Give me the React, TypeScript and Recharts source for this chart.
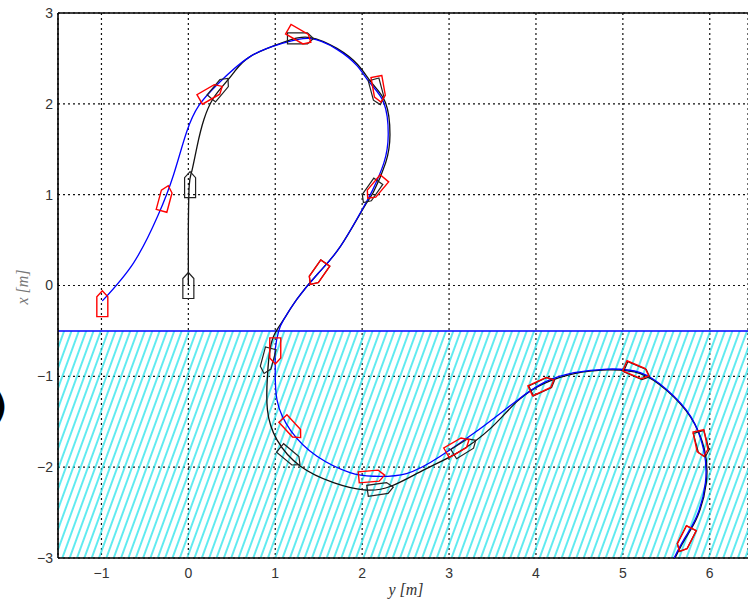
import { ScatterChart, Scatter, XAxis, YAxis, CartesianGrid, ReferenceArea, ReferenceLine } from 'recharts';

// reference track (blue), [y, x] in metres
const refTrack: [number, number][] = [
  [-0.99, -0.17], [-0.63, 0.25], [-0.35, 0.77], [-0.17, 1.22], [-0.02, 1.69], [0.12, 1.98],
  [0.33, 2.21], [0.71, 2.52], [1.1, 2.67], [1.4, 2.72], [1.71, 2.6], [1.94, 2.42],
  [2.09, 2.23], [2.25, 2.01], [2.3, 1.66], [2.25, 1.35], [2.12, 1.05], [2.02, 0.87],
  [1.75, 0.43], [1.49, 0.13], [1.25, -0.15], [1.1, -0.37], [1.04, -0.5], [1.0, -0.7],
  [1.0, -0.89], [1.02, -1.26], [1.18, -1.6], [1.48, -1.88], [1.86, -2.06], [2.13, -2.1],
  [2.51, -2.07], [2.9, -1.88], [3.28, -1.63], [3.6, -1.4], [3.79, -1.26], [4.09, -1.07],
  [4.44, -0.96], [4.82, -0.92], [5.2, -0.96], [5.51, -1.15], [5.78, -1.44], [5.93, -1.81],
  [5.95, -2.17], [5.85, -2.54], [5.7, -2.8], [5.59, -3.0],
];

// actual track (black)
const realTrack: [number, number][] = [
  [0, 0], [0, 0.6], [0.01, 1.1], [0.04, 1.26], [0.1, 1.53], [0.18, 1.83], [0.28, 2.05],
  [0.39, 2.19], [0.52, 2.34], [0.71, 2.52], [1.1, 2.68], [1.4, 2.73], [1.71, 2.61],
  [1.95, 2.43], [2.11, 2.23], [2.27, 2.01], [2.32, 1.66], [2.27, 1.35], [2.13, 1.03],
  [2.02, 0.86], [1.75, 0.43], [1.49, 0.13], [1.25, -0.15], [1.1, -0.37], [1.0, -0.52],
  [0.94, -0.7], [0.91, -1.0], [0.91, -1.37], [1.02, -1.7], [1.29, -1.99], [1.67, -2.17],
  [2.02, -2.25], [2.33, -2.21], [2.71, -2.03], [3.1, -1.84], [3.48, -1.57], [3.79, -1.27],
  [4.09, -1.08], [4.44, -0.97], [4.82, -0.93], [5.2, -0.97], [5.51, -1.16], [5.78, -1.45],
  [5.94, -1.81], [5.96, -2.17], [5.86, -2.54], [5.71, -2.8], [5.6, -3.0],
];

// boat poses: [y, x, heading deg clockwise from up]
const refBoats: [number, number, number][] = [
  [-0.99, -0.2, 0], [-0.27, 0.96, 15], [0.26, 2.12, 60], [1.28, 2.75, 120], [2.19, 2.16, 170],
  [2.16, 1.07, 220], [1.49, 0.13, 215], [1.0, -0.72, 180], [1.19, -1.57, 137], [2.11, -2.1, 85],
  [3.1, -1.77, 60], [4.07, -1.1, 65], [5.16, -0.94, 113], [5.9, -1.74, 168], [5.72, -2.8, 207],
];

const realBoats: [number, number, number][] = [
  [0, 0, 0], [0.02, 1.11, 0], [0.36, 2.17, 40], [1.29, 2.72, 90], [2.17, 2.13, 165],
  [2.1, 1.03, 215], [1.49, 0.13, 215], [0.91, -0.83, 195], [1.17, -1.88, 130], [2.21, -2.24, 82],
  [3.18, -1.78, 58], [4.08, -1.1, 65], [5.17, -0.95, 113], [5.91, -1.75, 165], [5.72, -2.8, 207],
];

const xTicks = [-1, 0, 1, 2, 3, 4, 5, 6];
const yTicks = [-3, -2, -1, 0, 1, 2, 3];

const toPts = (arr: [number, number][]) => arr.map(([x, y]) => ({ x, y }));
const toBoats = (arr: [number, number, number][]) => arr.map(([x, y, h]) => ({ x, y, h }));

const fmt = (v: number) => (v < 0 ? '\u2212' + Math.abs(v) : String(v));

const noDot = () => <g />;

function boat(color: string, width: number) {
  return (props: any) => {
    const { cx, cy, payload } = props;
    if (cx == null || cy == null) return <g />;
    const L = 26;
    const W = 11;
    const n = 6;
    const pts = [
      [-W / 2, L / 2], [W / 2, L / 2], [W / 2, -L / 2 + n], [0, -L / 2], [-W / 2, -L / 2 + n],
    ]
      .map(([px, py]) => `${cx + px},${cy + py}`)
      .join(' ');
    return (
      <polygon
        points={pts}
        transform={`rotate(${payload.h} ${cx} ${cy})`}
        fill="none"
        stroke={color}
        strokeWidth={width}
      />
    );
  };
}

export default function App() {
  const tickStyle = { fill: '#333', fontSize: 14, fontFamily: '"Liberation Sans", Arial, sans-serif' };
  return (
    <div style={{ position: 'absolute', left: 0, top: 0, width: 748, height: 602, overflow: 'hidden', background: '#fff' }}>
      <svg width={0} height={0} style={{ position: 'absolute' }}>
        <defs>
          <pattern id="hatch" patternUnits="userSpaceOnUse" width={6.9} height={20} patternTransform="rotate(20)">
            <line x1={1} y1={0} x2={1} y2={20} stroke="#1fe2ea" strokeWidth={1.4} />
          </pattern>
        </defs>
      </svg>
      <ScatterChart width={748} height={602} margin={{ top: 13, right: 0, bottom: 0, left: 0 }}>
        <CartesianGrid stroke="#111" strokeDasharray="2 3" strokeWidth={1.2} />
        <XAxis
          type="number"
          dataKey="x"
          domain={[-1.5, 6.44]}
          ticks={xTicks}
          tickFormatter={fmt}
          height={44}
          allowDataOverflow
          axisLine={{ stroke: '#000', strokeWidth: 1.6 }}
          tickLine={false}
          tickSize={0}
          tickMargin={10}
          tick={tickStyle}
        />
        <YAxis
          type="number"
          dataKey="y"
          domain={[-3, 3]}
          ticks={yTicks}
          tickFormatter={fmt}
          width={58}
          allowDataOverflow
          axisLine={{ stroke: '#000', strokeWidth: 1.6 }}
          tickLine={false}
          tickSize={0}
          tickMargin={5}
          tick={tickStyle}
        />
        <ReferenceArea y1={-3} y2={-0.5} fill="url(#hatch)" fillOpacity={1} stroke="none" />
        <ReferenceLine y={-0.5} stroke="#0000ff" strokeWidth={1.5} />
        <ReferenceLine y={3} stroke="#000" strokeWidth={1.6} />
        <Scatter
          data={toPts(realTrack)}
          line={{ stroke: '#111', strokeWidth: 1.3 }}
          lineJointType="natural"
          shape={noDot}
          isAnimationActive={false}
        />
        <Scatter
          data={toPts(refTrack)}
          line={{ stroke: '#0000ff', strokeWidth: 1.3 }}
          lineJointType="natural"
          shape={noDot}
          isAnimationActive={false}
        />
        <Scatter data={toBoats(realBoats)} shape={boat('#222', 1.2)} isAnimationActive={false} />
        <Scatter data={toBoats(refBoats)} shape={boat('#ff0000', 1.4)} isAnimationActive={false} />
      </ScatterChart>
      <div
        style={{
          position: 'absolute',
          left: 406,
          top: 590,
          transform: 'translate(-50%, -50%)',
          fontFamily: '"Liberation Serif", "Times New Roman", serif',
          fontStyle: 'italic',
          fontSize: 16,
          color: '#333',
          whiteSpace: 'nowrap',
        }}
      >
        y [m]
      </div>
      <div
        style={{
          position: 'absolute',
          left: 23,
          top: 287,
          transform: 'translate(-50%, -50%) rotate(-90deg)',
          fontFamily: '"Liberation Serif", "Times New Roman", serif',
          fontStyle: 'italic',
          fontSize: 16,
          color: '#777',
          whiteSpace: 'nowrap',
        }}
      >
        x [m]
      </div>
      <div
        style={{
          position: 'absolute',
          left: -9,
          top: 388,
          fontFamily: '"DejaVu Sans", sans-serif',
          fontWeight: 'bold',
          fontSize: 36,
          lineHeight: 1,
          color: '#000',
        }}
      >
        )
      </div>
    </div>
  );
}
